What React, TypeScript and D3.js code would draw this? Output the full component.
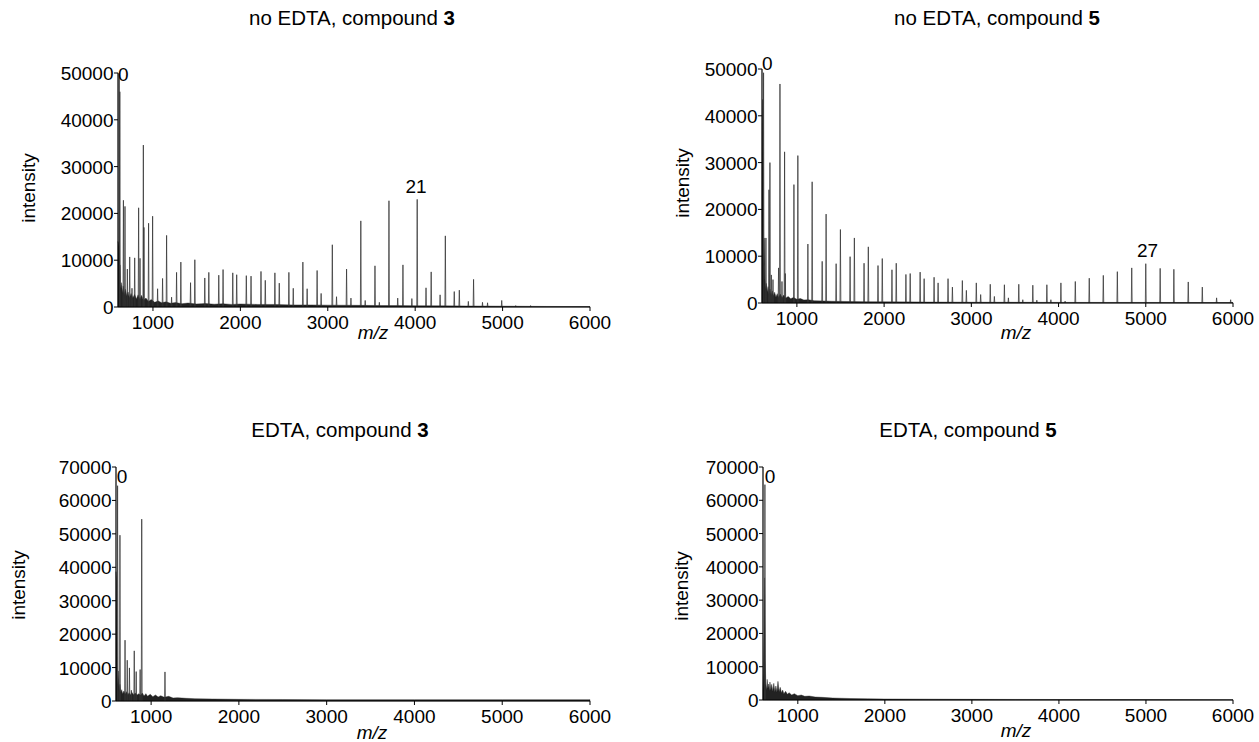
import React from "react";
import * as d3 from "d3";

type Pt = [number, number];

// ---------- data ----------
const xTicks = [1000, 2000, 3000, 4000, 5000, 6000];
const yTicksTop = [0, 10000, 20000, 30000, 40000, 50000];
const yTicksBottom = [0, 10000, 20000, 30000, 40000, 50000, 60000, 70000];

// no EDTA, compound 3 : peaks [m/z, intensity]
const peaksTL: Pt[] = [
  [614, 49800], [621, 46000], [662, 22800], [680, 21500], [707, 8100], [734, 10700],
  [760, 4000], [791, 10500], [836, 21200], [852, 10400], [890, 34600], [897, 17000],
  [950, 17900], [996, 19400], [1053, 3900], [1110, 6100], [1156, 15300], [1213, 2100],
  [1270, 7400], [1319, 9600], [1430, 5200], [1479, 10100], [1593, 6200], [1639, 7400],
  [1753, 6800], [1802, 8000], [1913, 7300], [1958, 6900], [2068, 6700], [2122, 6600],
  [2236, 7600], [2285, 5700], [2395, 7300], [2445, 5100], [2555, 7400], [2605, 4000],
  [2715, 9600], [2764, 3900], [2878, 7800], [2924, 2900], [3052, 13300], [3100, 2200],
  [3215, 8100], [3265, 1900], [3378, 18400], [3428, 1400], [3540, 8800], [3590, 1000],
  [3700, 22700], [3800, 1900], [3860, 9000], [3962, 1800], [4023, 23000], [4124, 4100],
  [4183, 7500], [4285, 2600], [4345, 15200], [4447, 3300], [4505, 3600], [4608, 1200],
  [4668, 5900], [4770, 1000], [4828, 900], [4990, 1400], [5150, 300], [5320, 300],
];
// dense low-level signal (upper edge)
const noiseTL: Pt[] = [
  [600, 14000], [606, 13500], [612, 12800], [618, 6000], [624, 9000], [630, 4000],
  [640, 5200], [650, 3000], [660, 4500], [670, 2600], [685, 3800], [700, 2400],
  [715, 3200], [730, 2000], [750, 2900], [770, 1900], [790, 2700], [810, 1700],
  [830, 2600], [850, 1600], [870, 2500], [890, 1400], [920, 1900], [950, 1200],
  [980, 1600], [1020, 1000], [1060, 1300], [1100, 900], [1150, 1100], [1200, 800],
  [1260, 950], [1330, 700], [1400, 850], [1500, 650], [1600, 750], [1700, 600],
  [1800, 700], [1900, 550], [2000, 650], [2200, 550], [2400, 550], [2600, 450],
  [2800, 450], [3000, 400], [3200, 380], [3400, 350], [3600, 320], [3800, 300],
  [4000, 280], [4300, 250], [4600, 220], [5000, 180], [5500, 120], [6000, 90],
];

// no EDTA, compound 5
const peaksTR: Pt[] = [
  [618, 49200], [645, 13900], [680, 24200], [691, 30000], [707, 6000], [726, 5000],
  [790, 7500], [806, 46800], [829, 4600], [859, 32300], [867, 6300], [966, 25300],
  [1011, 31500], [1126, 12600], [1175, 25900], [1290, 8900], [1335, 19000], [1450, 8400],
  [1499, 15700], [1610, 9900], [1659, 13900], [1770, 8500], [1819, 12000], [1930, 8000],
  [1979, 9500], [2090, 7100], [2139, 8500], [2250, 6100], [2299, 6300], [2413, 6600],
  [2459, 5200], [2573, 5500], [2619, 4300], [2733, 5200], [2783, 3400], [2897, 4800],
  [2943, 2700], [3057, 4300], [3107, 1800], [3217, 4000], [3264, 1400], [3379, 3900],
  [3425, 1100], [3544, 4000], [3590, 700], [3705, 3800], [3751, 600], [3866, 3900],
  [3912, 700], [4027, 4300], [4075, 400], [4192, 4600], [4352, 5300], [4513, 5900],
  [4674, 6700], [4839, 7500], [5000, 8400], [5165, 7400], [5322, 7200], [5487, 4500],
  [5648, 3400], [5812, 1100], [5973, 700],
];
const noiseTR: Pt[] = [
  [600, 20000], [604, 38000], [608, 43500], [612, 30000], [616, 14000], [622, 8000],
  [628, 13900], [634, 5000], [642, 3000], [650, 4200], [660, 2400], [670, 3500],
  [680, 2000], [692, 3000], [705, 1700], [718, 2600], [730, 1500], [745, 2300],
  [760, 1300], [775, 2000], [790, 1200], [810, 1900], [830, 1100], [850, 1700],
  [870, 1000], [900, 1400], [930, 900], [960, 1200], [1000, 800], [1040, 950],
  [1080, 650], [1130, 700], [1200, 500], [1300, 450], [1400, 380], [1600, 320],
  [1800, 280], [2000, 250], [2500, 200], [3000, 170], [4000, 130], [5000, 120],
  [6000, 100],
];

// EDTA, compound 3
const peaksBL: Pt[] = [
  [618, 64400], [645, 49600], [703, 18200], [728, 12200], [753, 9900], [775, 3200],
  [808, 15000], [830, 8800], [875, 9400], [893, 54400], [1158, 8700],
];
const noiseBL: Pt[] = [
  [600, 38700], [605, 36000], [610, 20000], [615, 8000], [620, 5000], [628, 9000],
  [636, 3000], [645, 5000], [655, 2600], [665, 3400], [675, 2200], [690, 3000],
  [705, 2000], [720, 2800], [735, 1900], [750, 2500], [765, 1800], [780, 2600],
  [800, 1900], [820, 2400], [840, 1800], [860, 2200], [880, 1700], [900, 2400],
  [920, 1500], [940, 2200], [960, 1400], [990, 2000], [1020, 1300], [1050, 1800],
  [1080, 1200], [1110, 1600], [1150, 1100], [1200, 1400], [1250, 900], [1300, 1000],
  [1400, 800], [1500, 700], [1700, 600], [2000, 500], [2500, 450], [3000, 400],
  [4000, 400], [5000, 400], [6000, 400],
];

// EDTA, compound 5
const peaksBR: Pt[] = [[622, 64700]];
const noiseBR: Pt[] = [
  [600, 3000], [606, 8000], [612, 20000], [618, 36700], [622, 30000], [626, 12000],
  [632, 5000], [640, 3000], [648, 6200], [656, 3500], [664, 4800], [672, 2800],
  [680, 5400], [690, 3000], [700, 4700], [712, 2600], [724, 5000], [736, 2500],
  [748, 4200], [760, 2300], [772, 5600], [785, 2500], [798, 3800], [812, 2200],
  [826, 3000], [840, 1900], [860, 2600], [880, 1700], [900, 2200], [930, 1500],
  [960, 1900], [1000, 1300], [1040, 1500], [1080, 1100], [1130, 1200], [1200, 900],
  [1280, 800], [1400, 600], [1600, 450], [1800, 350], [2000, 300], [2500, 250],
  [3000, 200], [3500, 170], [4000, 150], [5000, 120], [6000, 100],
];

type Lab = { mz: number; value: number; text: string };
const labelsTL: Lab[] = [{ mz: 660, value: 48300, text: "0" }, { mz: 4010, value: 24400, text: "21" }];
const labelsTR: Lab[] = [{ mz: 660, value: 49800, text: "0" }, { mz: 5020, value: 9800, text: "27" }];
const labelsBL: Lab[] = [{ mz: 670, value: 65200, text: "0" }];
const labelsBR: Lab[] = [{ mz: 680, value: 65200, text: "0" }];

// ---------- layout ----------
const FONT = "'Liberation Sans', Arial, Helvetica, sans-serif";
const TICK_FS = 19;

const panels = [
  {
    title: "no EDTA, compound ", num: "3", peaks: peaksTL, noise: noiseTL, labels: labelsTL,
    yTicks: yTicksTop, yMax: 50000, box: { l: 118, r: 590, t: 73, b: 307 },
    titlePos: [352, 25], yLab: [30, 188], xLab: [373, 339],
  },
  {
    title: "no EDTA, compound ", num: "5", peaks: peaksTR, noise: noiseTR, labels: labelsTR,
    yTicks: yTicksTop, yMax: 50000, box: { l: 762, r: 1233, t: 69, b: 303 },
    titlePos: [997, 25], yLab: [684, 183], xLab: [1016, 339],
  },
  {
    title: "EDTA, compound ", num: "3", peaks: peaksBL, noise: noiseBL, labels: labelsBL,
    yTicks: yTicksBottom, yMax: 70000, box: { l: 116, r: 590, t: 467, b: 701 },
    titlePos: [340, 437], yLab: [20, 585], xLab: [372, 739],
  },
  {
    title: "EDTA, compound ", num: "5", peaks: peaksBR, noise: noiseBR, labels: labelsBR,
    yTicks: yTicksBottom, yMax: 70000, box: { l: 763, r: 1233, t: 467, b: 700 },
    titlePos: [968, 437], yLab: [683, 586], xLab: [1016, 737],
  },
];

function Panel({ p }: { p: (typeof panels)[number] }) {
  const { l, r, t, b } = p.box;
  const x = d3.scaleLinear().domain([600, 6000]).range([l, r]);
  const y = d3.scaleLinear().domain([0, p.yMax]).range([b, t]);

  const area = d3
    .area<Pt>()
    .x((d) => x(d[0]))
    .y0(y(0))
    .y1((d) => y(d[1]));
  const line = d3
    .line<Pt>()
    .x((d) => x(d[0]))
    .y((d) => y(d[1]));

  const w = 5;
  const spikes = p.peaks
    .map((d) => line([[d[0] - w, 0], [d[0], d[1]], [d[0] + w, 0]] as Pt[]))
    .join("");

  return (
    <g>
      <text x={p.titlePos[0]} y={p.titlePos[1]} textAnchor="middle" fontSize={20.5} fontFamily={FONT} fill="#000">
        {p.title}
        <tspan fontWeight="bold">{p.num}</tspan>
      </text>
      <path d={area(p.noise) || ""} fill="#222" stroke="#222" strokeWidth={0.4} />
      <path d={spikes} fill="none" stroke="#333" strokeWidth={0.75} />
      {/* axes */}
      <line x1={l} x2={r} y1={b} y2={b} stroke="#000" strokeWidth={1.2} />
      <line x1={l} x2={l} y1={b} y2={t} stroke="#000" strokeWidth={1.2} />
      {xTicks.map((v) => (
        <g key={"x" + v}>
          <line x1={x(v)} x2={x(v)} y1={b} y2={b + 4} stroke="#000" strokeWidth={1} />
          <text x={x(v)} y={b + 22} textAnchor="middle" fontSize={TICK_FS} fontFamily={FONT}>
            {v}
          </text>
        </g>
      ))}
      {p.yTicks.map((v) => (
        <g key={"y" + v}>
          <line x1={l - 4} x2={l} y1={y(v)} y2={y(v)} stroke="#000" strokeWidth={1} />
          <text x={l - 4.5} y={y(v) + 7} textAnchor="end" fontSize={TICK_FS} fontFamily={FONT}>
            {v}
          </text>
        </g>
      ))}
      {p.labels.map((lb) => (
        <text key={lb.text} x={x(lb.mz)} y={y(lb.value)} textAnchor="middle" fontSize={TICK_FS} fontFamily={FONT}>
          {lb.text}
        </text>
      ))}
      <text
        transform={`translate(${p.yLab[0]},${p.yLab[1]}) rotate(-90)`}
        textAnchor="middle"
        dominantBaseline="middle"
        fontSize={TICK_FS}
        fontFamily={FONT}
      >
        intensity
      </text>
      <text x={p.xLab[0]} y={p.xLab[1]} textAnchor="middle" fontSize={TICK_FS} fontStyle="italic" fontFamily={FONT}>
        m/z
      </text>
    </g>
  );
}

export default function App() {
  return (
    <svg
      width={1259}
      height={742}
      style={{ position: "absolute", left: 0, top: 0, background: "#fff" }}
    >
      <rect width={1259} height={742} fill="#fff" />
      {panels.map((p, i) => (
        <Panel key={i} p={p} />
      ))}
    </svg>
  );
}
